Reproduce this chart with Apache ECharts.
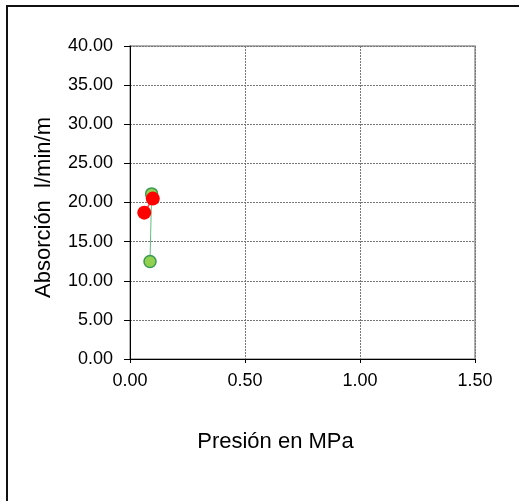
<!DOCTYPE html>
<html>
<head>
<meta charset="utf-8">
<script src="https://cdn.jsdelivr.net/npm/echarts@6/dist/echarts.min.js"></script>
<style>html,body{margin:0;padding:0;background:#fff}#c{width:519px;height:501px}</style>
</head>
<body>
<div id="c"></div>
<script>
var xTicks = [0, 0.5, 1.0, 1.5];
var yTicks = [0, 5, 10, 15, 20, 25, 30, 35, 40];
var greenX = [0.094, 0.087];
var greenY = [21.1, 12.45];
var redX = [0.062, 0.099];
var redY = [18.7, 20.5];

function pairs(xs, ys){ return xs.map(function(x,i){ return [x, ys[i]]; }); }

var chart = echarts.init(document.getElementById('c'), null, {renderer:'canvas'});
var font = 'Liberation Sans, Arial, sans-serif';
chart.setOption({
  animation:false,
  graphic:[{type:'rect', shape:{x:7,y:6,width:700,height:700}, style:{fill:'none', stroke:'#111', lineWidth:2}, z:-1}],
  grid:{left:130, top:46, width:345, height:313, show:true, borderColor:'#999', borderWidth:1.5, containLabel:false},
  xAxis:{
    type:'value', min:xTicks[0], max:xTicks[xTicks.length-1], interval:0.5,
    name:'Presión en MPa', nameLocation:'middle', nameGap:72,
    nameTextStyle:{fontFamily:font, fontSize:22, color:'#000', padding:[0,54,0,0]},
    axisLine:{show:true, onZero:false, lineStyle:{color:'#000', width:1}},
    axisTick:{show:true, inside:false, length:4, lineStyle:{color:'#000'}},
    axisLabel:{fontFamily:font, fontSize:18, color:'#000', margin:13, formatter:function(v){return v.toFixed(2);}},
    splitLine:{show:true, lineStyle:{color:'#777', type:[2,1], width:1}}
  },
  yAxis:{
    type:'value', min:yTicks[0], max:yTicks[yTicks.length-1], interval:5,
    name:'Absorción  l/min/m', nameLocation:'middle', nameGap:75,
    nameTextStyle:{fontFamily:font, fontSize:22, color:'#000', padding:[0,10,0,0]},
    axisLine:{show:true, onZero:false, lineStyle:{color:'#000', width:1}},
    axisTick:{show:true, inside:false, length:6, lineStyle:{color:'#000'}},
    axisLabel:{fontFamily:font, fontSize:18, color:'#000', margin:17, formatter:function(v){return v.toFixed(2);}},
    splitLine:{show:true, lineStyle:{color:'#777', type:[2,1], width:1}}
  },
  series:[
    {type:'line', data:pairs(greenX, greenY), symbol:'circle', symbolSize:12,
     lineStyle:{color:'#5fbf7f', width:1},
     itemStyle:{color:'#92d050', borderColor:'#3c9a55', borderWidth:1.5}},
    {type:'line', data:pairs(redX, redY), symbol:'circle', symbolSize:14,
     lineStyle:{color:'#ff3030', width:1.5},
     itemStyle:{color:'#ff0000', borderWidth:0}}
  ]
});
</script>
</body>
</html>
